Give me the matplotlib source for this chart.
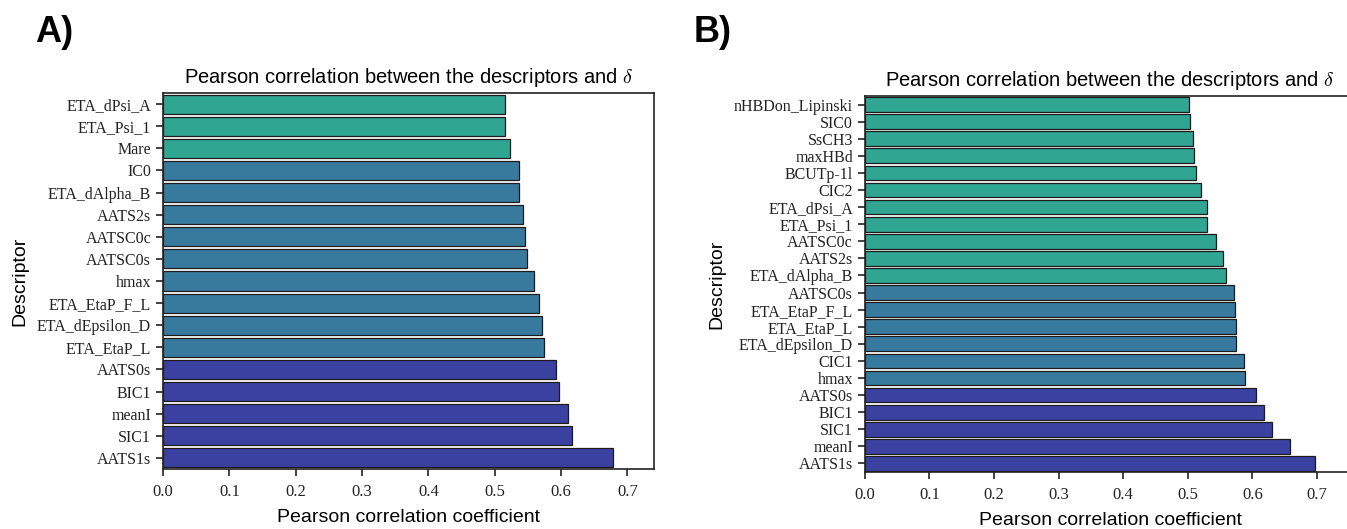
import matplotlib
matplotlib.use("Agg")
import matplotlib.pyplot as plt
import numpy as np

# Datos del panel A (de arriba hacia abajo)
desc_a = ["ETA_dPsi_A", "ETA_Psi_1", "Mare", "IC0", "ETA_dAlpha_B", "AATS2s",
          "AATSC0c", "AATSC0s", "hmax", "ETA_EtaP_F_L", "ETA_dEpsilon_D",
          "ETA_EtaP_L", "AATS0s", "BIC1", "meanI", "SIC1", "AATS1s"]
corr_a = [0.515, 0.515, 0.523, 0.537, 0.537, 0.542, 0.546, 0.548, 0.559,
          0.567, 0.571, 0.574, 0.593, 0.597, 0.610, 0.616, 0.678]
group_a = [0, 0, 0, 1, 1, 1, 1, 1, 1, 1, 1, 1, 2, 2, 2, 2, 2]

# Datos del panel B (de arriba hacia abajo)
desc_b = ["nHBDon_Lipinski", "SIC0", "SsCH3", "maxHBd", "BCUTp-1l", "CIC2",
          "ETA_dPsi_A", "ETA_Psi_1", "AATSC0c", "AATS2s", "ETA_dAlpha_B",
          "AATSC0s", "ETA_EtaP_F_L", "ETA_EtaP_L", "ETA_dEpsilon_D", "CIC1",
          "hmax", "AATS0s", "BIC1", "SIC1", "meanI", "AATS1s"]
corr_b = [0.502, 0.504, 0.508, 0.510, 0.513, 0.521, 0.529, 0.529, 0.543,
          0.554, 0.559, 0.572, 0.573, 0.574, 0.575, 0.587, 0.588, 0.606,
          0.618, 0.631, 0.658, 0.697]
group_b = [0] * 11 + [1] * 6 + [2] * 5

colores = ["#2fa592", "#387a9d", "#3a41a0"]

plt.rcParams["mathtext.fontset"] = "cm"

fig = plt.figure(figsize=(13.47, 5.29), dpi=100)
ax_a = fig.add_axes([0.121, 0.1134, 0.3645, 0.7108])
ax_b = fig.add_axes([0.642, 0.1078, 0.3645, 0.7107])


def dibuja(ax, desc, corr, grupos, xmax):
    y = np.arange(len(desc))
    ax.barh(y, corr, height=0.86, color=[colores[g] for g in grupos],
            edgecolor="#1c1c1c", linewidth=0.9)
    ax.set_yticks(y)
    ax.set_yticklabels(desc, fontfamily="Liberation Serif", fontsize=11.5)
    ax.set_ylim(len(desc) - 0.5, -0.5)
    ax.set_xlim(0, xmax)
    ticks = np.arange(0, 0.71, 0.1)
    ax.set_xticks(ticks)
    ax.set_xticklabels([f"{t:.1f}" for t in ticks],
                       fontfamily="Liberation Serif", fontsize=12)
    ax.tick_params(length=5, width=1.2, colors="#222222")
    ax.tick_params(axis="x", pad=6)
    for s in ax.spines.values():
        s.set_linewidth(1.2)
        s.set_color("#222222")
    ax.set_title(r"Pearson correlation between the descriptors and $\delta$",
                 fontfamily="Liberation Sans", fontsize=14.5, pad=7)
    ax.set_xlabel("Pearson correlation coefficient",
                  fontfamily="Liberation Sans", fontsize=14, labelpad=6)
    ax.set_ylabel("Descriptor", fontfamily="Liberation Sans", fontsize=14,
                  labelpad=6)


dibuja(ax_a, desc_a, corr_a, group_a, 0.74)
dibuja(ax_b, desc_b, corr_b, group_b, 0.76)

fig.text(0.026, 0.92, "A)", fontfamily="Liberation Sans", fontweight="bold",
         fontsize=26)
fig.text(0.515, 0.92, "B)", fontfamily="Liberation Sans", fontweight="bold",
         fontsize=26)

fig.savefig("out.png", dpi=100)
